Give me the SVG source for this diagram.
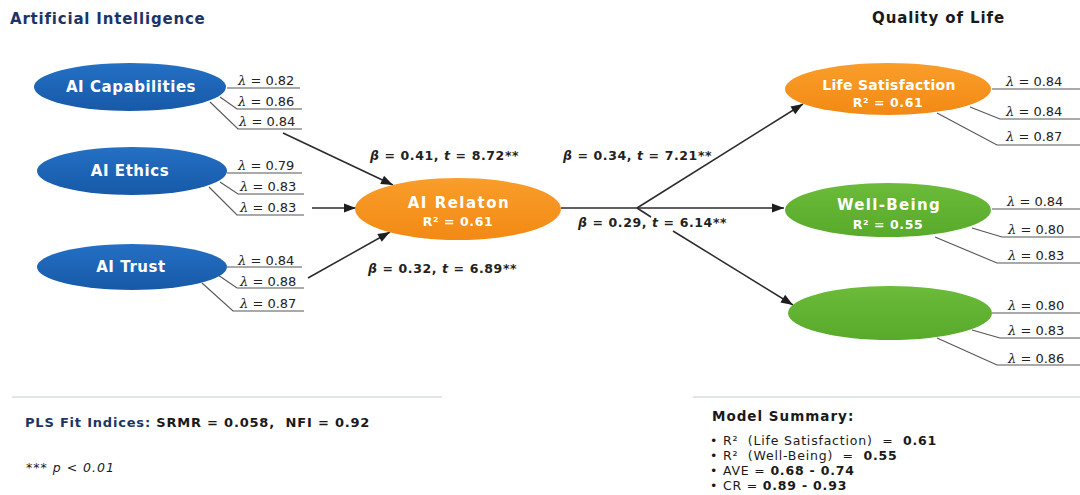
<svg xmlns="http://www.w3.org/2000/svg" width="1080" height="495" viewBox="0 0 1080 495">
  <defs>
    <marker id="arrow" viewBox="0 0 12 10" refX="12" refY="5" markerWidth="13" markerHeight="10" markerUnits="userSpaceOnUse" orient="auto">
      <path d="M0,0.5 L12,5 L0,9.5 Z" fill="#1e1e1e"/>
    </marker>
    <linearGradient id="gBlue" x1="0" y1="0" x2="0" y2="1">
      <stop offset="0" stop-color="#2470c4"/>
      <stop offset="1" stop-color="#1759a8"/>
    </linearGradient>
    <linearGradient id="gOrange" x1="0" y1="0" x2="0" y2="1">
      <stop offset="0" stop-color="#fa9d2a"/>
      <stop offset="1" stop-color="#f28a14"/>
    </linearGradient>
    <linearGradient id="gGreen" x1="0" y1="0" x2="0" y2="1">
      <stop offset="0" stop-color="#6cbb3a"/>
      <stop offset="1" stop-color="#58aa2b"/>
    </linearGradient>
  </defs>
  <style>
    text { font-family: "DejaVu Sans", "Open Sans", "Liberation Sans", sans-serif; }
    .title { font-size: 15px; font-weight: 700; }
    .node { font-size: 15px; font-weight: 700; fill: #ffffff; text-anchor: middle; letter-spacing: 0.55px; }
    .r2 { font-size: 12.5px; font-weight: 700; fill: #ffffff; text-anchor: middle; letter-spacing: 0.6px; }
    .lam { font-size: 13px; fill: #222222; }
    .lam tspan.sym { font-family: "DejaVu Serif", "Liberation Serif", serif; font-style: italic; }
    .beta { font-size: 12.5px; font-weight: 700; fill: #222222; letter-spacing: 0.6px; }
    .beta tspan.it { font-style: italic; }
    .load { fill: none; stroke: #555555; stroke-width: 1.1; }
    .path { fill: none; stroke: #2a2a2a; stroke-width: 1.5; }
    .rule { stroke: #d9dde3; stroke-width: 1.5; }
    .foot { font-size: 13px; font-weight: 700; fill: #1a1a1a; letter-spacing: 0.8px; }
    .head { font-size: 13.5px; font-weight: 700; fill: #1a1a1a; letter-spacing: 1px; }
    .bul { font-size: 12.5px; fill: #1a1a1a; letter-spacing: 0.8px; }
    .note { font-size: 12.5px; font-style: italic; fill: #1a1a1a; letter-spacing: 1px; }
  </style>

  <rect width="1080" height="495" fill="#ffffff"/>

  <!-- section headings -->
  <text class="title" x="10" y="24" fill="#1a3566" style="letter-spacing:0.8px">Artificial Intelligence</text>
  <text class="title" x="872" y="23" fill="#1a1a1a" style="letter-spacing:0.9px">Quality of Life</text>

  <!-- structural paths -->
  <g id="connectors">
    <line class="path" x1="283" y1="133" x2="393" y2="185" marker-end="url(#arrow)"/>
    <line class="path" x1="312" y1="208" x2="356" y2="208" marker-end="url(#arrow)"/>
    <line class="path" x1="308" y1="278" x2="390" y2="232" marker-end="url(#arrow)"/>
    <line class="path" x1="561" y1="208" x2="784" y2="208" marker-end="url(#arrow)"/>
    <line class="path" x1="637" y1="208" x2="803" y2="104" marker-end="url(#arrow)"/>
    <line class="path" x1="637" y1="208" x2="651" y2="217"/>
    <line class="path" x1="673" y1="231" x2="793" y2="305" marker-end="url(#arrow)"/>
  </g>

  <!-- path coefficients -->
  <g id="coefficients">
    <text class="beta" x="370" y="160"><tspan class="it">β</tspan> = 0.41, <tspan class="it">t</tspan> = 8.72**</text>
    <text class="beta" x="368" y="273"><tspan class="it">β</tspan> = 0.32, <tspan class="it">t</tspan> = 6.89**</text>
    <text class="beta" x="563" y="160"><tspan class="it">β</tspan> = 0.34, <tspan class="it">t</tspan> = 7.21**</text>
    <text class="beta" x="578" y="227"><tspan class="it">β</tspan> = 0.29, <tspan class="it">t</tspan> = 6.14**</text>
  </g>

  <!-- AI Capabilities -->
  <g id="ai-capabilities">
    <polyline class="load" points="227,88 300,88"/>
    <polyline class="load" points="220,97 237,109 302,109"/>
    <polyline class="load" points="210,102 238,129 302,129"/>
    <ellipse cx="130" cy="87" rx="96" ry="24" fill="url(#gBlue)"/>
    <text class="node" x="131" y="92">AI Capabilities</text>
    <text class="lam" x="238" y="85"><tspan class="sym">λ</tspan> = 0.82</text>
    <text class="lam" x="238" y="106"><tspan class="sym">λ</tspan> = 0.86</text>
    <text class="lam" x="239" y="126"><tspan class="sym">λ</tspan> = 0.84</text>
  </g>

  <!-- AI Ethics -->
  <g id="ai-ethics">
    <polyline class="load" points="227,173 302,173"/>
    <polyline class="load" points="220,182 238,194 304,194"/>
    <polyline class="load" points="209,187 237,215 304,215"/>
    <ellipse cx="132" cy="171" rx="95" ry="24" fill="url(#gBlue)"/>
    <text class="node" x="130" y="176">AI Ethics</text>
    <text class="lam" x="238" y="170"><tspan class="sym">λ</tspan> = 0.79</text>
    <text class="lam" x="240" y="191"><tspan class="sym">λ</tspan> = 0.83</text>
    <text class="lam" x="240" y="212"><tspan class="sym">λ</tspan> = 0.83</text>
  </g>

  <!-- AI Trust -->
  <g id="ai-trust">
    <polyline class="load" points="227,267 302,267"/>
    <polyline class="load" points="218,275 237,288 304,288"/>
    <polyline class="load" points="202,283 233,311 304,311"/>
    <ellipse cx="132" cy="267" rx="95" ry="23" fill="url(#gBlue)"/>
    <text class="node" x="131" y="272">AI Trust</text>
    <text class="lam" x="238" y="265"><tspan class="sym">λ</tspan> = 0.84</text>
    <text class="lam" x="240" y="286"><tspan class="sym">λ</tspan> = 0.88</text>
    <text class="lam" x="240" y="308"><tspan class="sym">λ</tspan> = 0.87</text>
  </g>

  <!-- AI Relaton (mediator) -->
  <g id="ai-relaton">
    <ellipse cx="458" cy="209" rx="103" ry="31" fill="url(#gOrange)"/>
    <text class="node" x="459" y="208" style="letter-spacing:1.5px">AI Relaton</text>
    <text class="r2" x="458" y="226">R² = 0.61</text>
  </g>

  <!-- Life Satisfaction -->
  <g id="life-satisfaction">
    <polyline class="load" points="992,89 1080,89"/>
    <polyline class="load" points="970,107 1000,119 1080,119"/>
    <polyline class="load" points="937,113 997,145 1080,145"/>
    <ellipse cx="888" cy="89" rx="103" ry="26" fill="url(#gOrange)"/>
    <text class="node" x="889" y="90" style="font-size:14px; letter-spacing:0.3px">Life Satisfaction</text>
    <text class="r2" x="888" y="107">R² = 0.61</text>
    <text class="lam" x="1006" y="86"><tspan class="sym">λ</tspan> = 0.84</text>
    <text class="lam" x="1006" y="116"><tspan class="sym">λ</tspan> = 0.84</text>
    <text class="lam" x="1006" y="141"><tspan class="sym">λ</tspan> = 0.87</text>
  </g>

  <!-- Well-Being -->
  <g id="well-being">
    <polyline class="load" points="992,209 1080,209"/>
    <polyline class="load" points="972,228 1002,237 1080,237"/>
    <polyline class="load" points="935,237 997,263 1080,263"/>
    <ellipse cx="888" cy="210" rx="103" ry="27" fill="url(#gGreen)"/>
    <text class="node" x="889" y="210" style="letter-spacing:1.3px">Well-Being</text>
    <text class="r2" x="888" y="229">R² = 0.55</text>
    <text class="lam" x="1007" y="206"><tspan class="sym">λ</tspan> = 0.84</text>
    <text class="lam" x="1008" y="234"><tspan class="sym">λ</tspan> = 0.80</text>
    <text class="lam" x="1008" y="260"><tspan class="sym">λ</tspan> = 0.83</text>
  </g>

  <!-- third outcome construct -->
  <g id="outcome-3">
    <polyline class="load" points="992,313 1080,313"/>
    <polyline class="load" points="972,330 1000,338 1080,338"/>
    <polyline class="load" points="937,338 997,365 1080,365"/>
    <ellipse cx="890" cy="313" rx="102" ry="27" fill="url(#gGreen)"/>
    <text class="lam" x="1008" y="310"><tspan class="sym">λ</tspan> = 0.80</text>
    <text class="lam" x="1008" y="335"><tspan class="sym">λ</tspan> = 0.83</text>
    <text class="lam" x="1008" y="363"><tspan class="sym">λ</tspan> = 0.86</text>
  </g>

  <!-- fit indices -->
  <g id="fit-indices">
    <line class="rule" x1="12" y1="397" x2="442" y2="397"/>
    <text class="foot" x="25" y="427" xml:space="preserve"><tspan fill="#1a3566">PLS Fit Indices:</tspan> SRMR = 0.058,  NFI = 0.92</text>
    <text class="note" x="26" y="472">*** p &lt; 0.01</text>
  </g>

  <!-- model summary -->
  <g id="model-summary">
    <line class="rule" x1="693" y1="397" x2="1080" y2="397"/>
    <text class="head" x="712" y="421">Model Summary:</text>
    <text class="bul" x="710" y="445" xml:space="preserve">• R²  (Life Satisfaction)  =  <tspan font-weight="700">0.61</tspan></text>
    <text class="bul" x="710" y="460" xml:space="preserve">• R²  (Well-Being)  =  <tspan font-weight="700">0.55</tspan></text>
    <text class="bul" x="710" y="475" xml:space="preserve">• AVE = <tspan font-weight="700">0.68 - 0.74</tspan></text>
    <text class="bul" x="710" y="490" xml:space="preserve">• CR = <tspan font-weight="700">0.89 - 0.93</tspan></text>
  </g>
</svg>
